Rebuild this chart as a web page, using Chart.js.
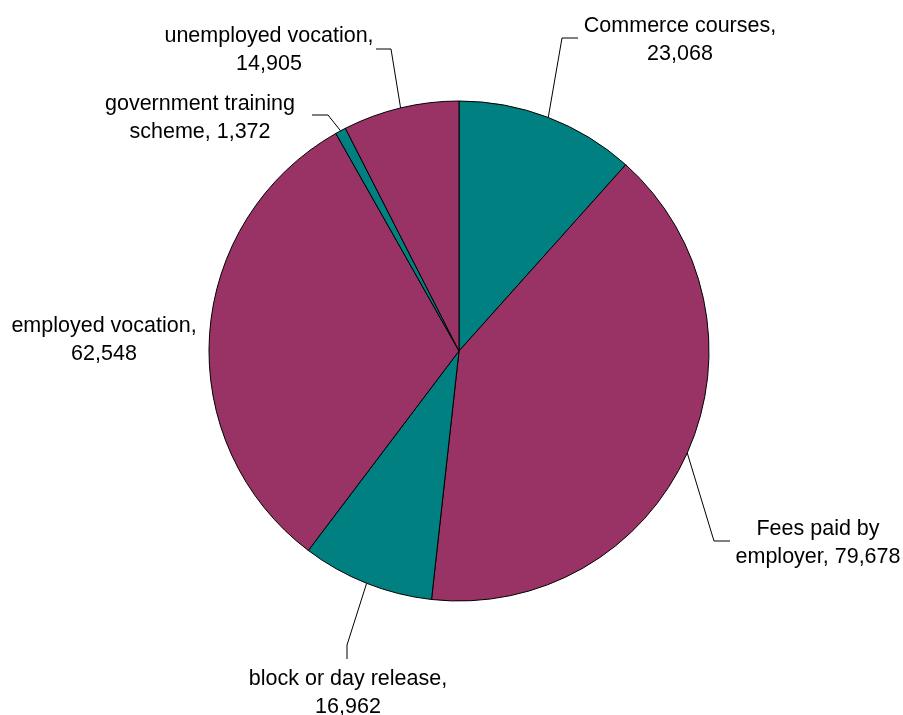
<!DOCTYPE html>
<html>
<head>
<meta charset="utf-8">
<script src="https://cdn.jsdelivr.net/npm/chart.js@4/dist/chart.umd.min.js"></script>
<style>
  html, body { margin: 0; padding: 0; background: #fff; }
  #pie { display: block; }
</style>
</head>
<body>
<canvas id="pie" width="903" height="715"></canvas>
<script>
const categories = [
  ['Commerce courses,'],
  ['Fees paid by', 'employer,'],
  ['block or day release,'],
  ['employed vocation,'],
  ['government training', 'scheme,'],
  ['unemployed vocation,']
];
const values = [23068, 79678, 16962, 62548, 1372, 14905];

const TEAL = '#008080';
const PLUM = '#993366';
const sliceColors = [TEAL, PLUM, TEAL, PLUM, TEAL, PLUM];

// where each label sits: text centre x, first baseline y, optional elbow + end of the leader
const labelSpots = [
  { x: 680, y: 32, elbow: [562, 38], end: [578, 38] },
  { x: 818, y: 535, elbow: [714, 541], end: [730, 541] },
  { x: 348, y: 685, elbow: [347, 645], end: [347, 659] },
  { x: 104, y: 332 },
  { x: 200, y: 110, elbow: [328, 115], end: [312, 115] },
  { x: 269, y: 42, elbow: [391, 49], end: [376, 49] }
];

function fmt(n) {
  return n.toLocaleString('en-US');
}

// text lines: the number goes on the last line (same line when the label has two parts)
function labelLines(i) {
  const parts = categories[i].slice();
  if (parts.length > 1) {
    parts[parts.length - 1] += ' ' + fmt(values[i]);
  } else {
    parts.push(fmt(values[i]));
  }
  return parts;
}

const pieLabels = {
  id: 'pieLabels',
  afterDraw(chart) {
    const ctx = chart.ctx;
    const meta = chart.getDatasetMeta(0);
    ctx.save();
    ctx.strokeStyle = '#000';
    ctx.lineWidth = 1;
    meta.data.forEach((arc, i) => {
      const p = arc.getProps(['x', 'y', 'startAngle', 'endAngle', 'outerRadius'], true);
      const mid = (p.startAngle + p.endAngle) / 2;
      const sx = p.x + Math.cos(mid) * p.outerRadius;
      const sy = p.y + Math.sin(mid) * p.outerRadius;
      const spot = labelSpots[i];
      if (spot.elbow) {
        ctx.beginPath();
        ctx.moveTo(sx, sy);
        ctx.lineTo(spot.elbow[0], spot.elbow[1]);
        ctx.lineTo(spot.end[0], spot.end[1]);
        ctx.stroke();
      }
      ctx.fillStyle = '#000';
      ctx.font = '21.5px "Liberation Sans", Arial, sans-serif';
      ctx.textAlign = 'center';
      ctx.textBaseline = 'alphabetic';
      labelLines(i).forEach((line, k) => {
        ctx.fillText(line, spot.x, spot.y + k * 28);
      });
    });
    ctx.restore();
  }
};

new Chart(document.getElementById('pie'), {
  type: 'pie',
  data: {
    labels: categories.map(c => c.join(' ')),
    datasets: [{
      data: values,
      backgroundColor: sliceColors,
      borderColor: '#000',
      borderWidth: 1
    }]
  },
  options: {
    responsive: false,
    animation: false,
    radius: 250,
    layout: { padding: { left: 115, right: 100, top: 87, bottom: 100 } },
    plugins: {
      legend: { display: false },
      tooltip: { enabled: false }
    }
  },
  plugins: [pieLabels]
});
</script>
</body>
</html>
